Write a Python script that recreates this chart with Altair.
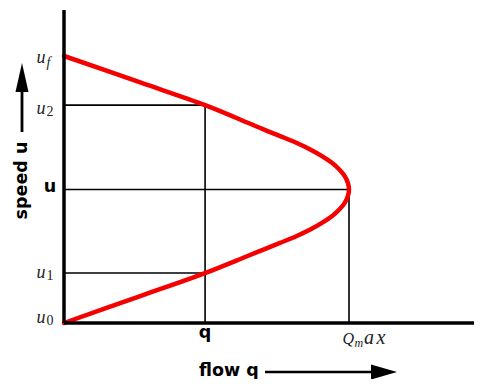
import altair as alt
import pandas as pd

# ---- data ----
# speed-flow curve (u = speed, q = flow), normalised so u_f = 1, Q_max = 1
speed_u = [0.0, 0.10, 0.187, 0.25, 0.275, 0.30, 0.325, 0.35, 0.375, 0.40, 0.425,
           0.45, 0.475, 0.50, 0.525, 0.55, 0.575, 0.60, 0.625, 0.65, 0.675,
           0.70, 0.725, 0.75, 0.816, 0.90, 1.0]
flow_q = [0.0, 0.265, 0.495, 0.642, 0.70, 0.758, 0.815, 0.864, 0.905, 0.94, 0.966,
          0.985, 0.996, 1.0, 0.996, 0.985, 0.966, 0.94, 0.905, 0.864, 0.815,
          0.758, 0.70, 0.645, 0.495, 0.27, 0.0]

# reference levels
U_F, U_2, U_M, U_1, U_0 = 1.0, 0.816, 0.5, 0.187, 0.0
Q_Q, Q_MAX = 0.495, 1.0

h_guide_u = [U_2, U_M, U_1]
h_guide_q_end = [Q_Q, Q_MAX, Q_Q]
v_guide_q = [Q_Q, Q_MAX]
v_guide_u_top = [U_2, U_M]

X_MAX = 410 / 285
Y_MAX = 313 / 267

xs = alt.Scale(domain=[0, X_MAX], nice=False, zero=False)
ys = alt.Scale(domain=[0, Y_MAX], nice=False, zero=False)


def X(field):
    return alt.X(field, type="quantitative", scale=xs, axis=None)


def Y(field):
    return alt.Y(field, type="quantitative", scale=ys, axis=None)


curve_df = pd.DataFrame({"q": flow_q, "u": speed_u, "i": range(len(speed_u))})
curve = alt.Chart(curve_df).mark_line(
    color="#f50000", strokeWidth=4.5, interpolate="catmull-rom", strokeCap="round"
).encode(x=X("q"), y=Y("u"), order="i:Q")

hdf = pd.DataFrame({"q0": [0.0] * len(h_guide_u), "q1": h_guide_q_end, "u": h_guide_u})
hguides = alt.Chart(hdf).mark_rule(color="black", strokeWidth=1.6).encode(
    x=X("q0"), x2="q1", y=Y("u"))

vdf = pd.DataFrame({"q": v_guide_q, "u0": [0.0] * len(v_guide_q), "u1": v_guide_u_top})
vguides = alt.Chart(vdf).mark_rule(color="black", strokeWidth=1.6).encode(
    x=X("q"), y=Y("u0"), y2="u1")

xaxis = alt.Chart(pd.DataFrame({"q0": [0.0], "q1": [X_MAX], "u": [0.0]})).mark_rule(
    color="black", strokeWidth=3.5).encode(x=X("q0"), x2="q1", y=Y("u"))
yaxis = alt.Chart(pd.DataFrame({"q": [0.0], "u0": [0.0], "u1": [Y_MAX]})).mark_rule(
    color="black", strokeWidth=3.5).encode(x=X("q"), y=Y("u0"), y2="u1")

SERIF = "Liberation Serif"
SANS = "DejaVu Sans"


def ylab(u, main, sub, dy_main, dy_sub):
    df = pd.DataFrame({"u": [u], "t": [main], "s": [sub]})
    a = alt.Chart(df).mark_text(font=SERIF, fontStyle="italic", fontSize=18,
                                align="center", baseline="alphabetic", dy=dy_main,
                                color="#222").encode(
        x=alt.value(-23), y=Y("u"), text="t:N")
    b = alt.Chart(df).mark_text(font=SERIF, fontStyle="italic" if sub.isalpha() else "normal",
                                fontSize=14, align="left", baseline="alphabetic",
                                dy=dy_sub, color="#222").encode(
        x=alt.value(-17.5), y=Y("u"), text="s:N")
    return a + b


labels_u = (ylab(U_F, "u", "f", 6.5, 11) + ylab(U_2, "u", "2", 9, 11)
            + ylab(U_1, "u", "1", 5, 7) + ylab(U_0, "u", "0", 0, 2))

u_mid = alt.Chart(pd.DataFrame({"u": [U_M], "t": ["u"]})).mark_text(
    font=SANS, fontWeight="bold", fontSize=17.5, align="center",
    baseline="alphabetic", dy=2).encode(x=alt.value(-14), y=Y("u"), text="t:N")

q_lab = alt.Chart(pd.DataFrame({"q": [Q_Q], "u": [0.0], "t": ["q"]})).mark_text(
    font=SANS, fontWeight="bold", fontSize=17.5, align="center",
    baseline="alphabetic", dy=15).encode(x=X("q"), y=Y("u"), text="t:N")


def qpart(text, dx, dy, size):
    df = pd.DataFrame({"q": [Q_MAX], "u": [0.0], "t": [text]})
    return alt.Chart(df).mark_text(font=SERIF, fontStyle="italic", fontSize=size,
                                   align="left", baseline="alphabetic", dx=dx, dy=dy,
                                   color="#222").encode(x=X("q"), y=Y("u"), text="t:N")


qmax_lab = (qpart("Q", -6.5, 21, 16) + qpart("m", 5.5, 24, 12)
            + qpart("a", 15, 21, 20) + qpart("x", 27.5, 21, 20))

one = pd.DataFrame({"k": [0]})

flow_title = alt.Chart(pd.DataFrame({"t": ["flow q"]})).mark_text(
    font=SANS, fontWeight="bold", fontSize=17.5, align="center", baseline="alphabetic"
).encode(x=alt.value(165), y=alt.value(366), text="t:N")
flow_shaft = alt.Chart(one).mark_rule(color="black", strokeWidth=2.5).encode(
    x=alt.value(201), x2=alt.value(309), y=alt.value(362))
flow_head = alt.Chart(one).mark_point(
    shape="M1,0L-1,-0.58L-1,0.58Z", size=676, filled=True, color="black", opacity=1,
    strokeWidth=0).encode(x=alt.value(320), y=alt.value(362))

speed_title = alt.Chart(pd.DataFrame({"t": ["speed u"]})).mark_text(
    font=SANS, fontWeight="bold", fontSize=17.5, align="center", baseline="middle",
    angle=270).encode(x=alt.value(-42), y=alt.value(170.5), text="t:N")
speed_shaft = alt.Chart(one).mark_rule(color="black", strokeWidth=2.8).encode(
    x=alt.value(-42), y=alt.value(80), y2=alt.value(122))
speed_head = alt.Chart(one).mark_point(
    shape="M0,-1L0.45,1L-0.45,1Z", size=841, filled=True, color="black", opacity=1,
    strokeWidth=0).encode(x=alt.value(-42), y=alt.value(67.5))

chart = alt.layer(
    hguides, vguides, curve, xaxis, yaxis, labels_u, u_mid, q_lab, qmax_lab,
    flow_title, flow_shaft, flow_head, speed_title, speed_shaft, speed_head
).properties(
    width=410, height=313,
    autosize=alt.AutoSizeParams(type="none"),
    padding={"left": 56, "top": 2, "right": 0, "bottom": 56},
    background="white",
).configure_view(stroke=None)

chart.save("out.html", embed_options={"renderer": "svg", "actions": False})
